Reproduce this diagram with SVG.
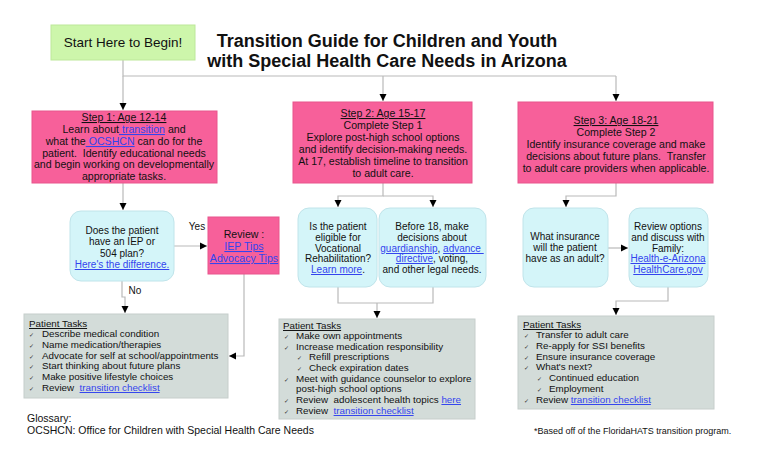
<svg xmlns="http://www.w3.org/2000/svg" width="760" height="461" viewBox="0 0 760 461">
<defs>
<marker id="ah" markerWidth="8" markerHeight="8" refX="7" refY="4" orient="auto" markerUnits="userSpaceOnUse">
<path d="M0,0.5 L7,4 L0,7.5 Z" fill="#000"/>
</marker>
<style>
text{font-family:"Liberation Sans",Arial,sans-serif;fill:#111;white-space:pre;}
.t{font-size:18px;font-weight:bold;text-anchor:middle;}
.s{font-size:10.6px;text-anchor:middle;}
.q{font-size:10px;text-anchor:middle;}
.p{font-size:9.8px;}
.u{text-decoration:underline;}
.a{fill:#3344ee;text-decoration:underline;}
.ck{font-family:"DejaVu Sans",sans-serif;font-size:6px;fill:#333;}
.pink{fill:#f7609a;stroke:#e8558c;stroke-width:1;}
.cyan{fill:#d4f5f9;stroke:#c0e4ea;stroke-width:1;}
.gray{fill:#d3dcd9;stroke:#c6cecb;stroke-width:1;}
.c{fill:none;stroke:#b9b9b9;stroke-width:1.2;}
</style>
</defs>
<rect width="760" height="461" fill="#fff"/>
<text class="t" x="387" y="47">Transition Guide for Children and Youth</text>
<text class="t" x="387" y="67">with Special Health Care Needs in Arizona</text>

<g id="connectors">
<path class="c" d="M123,60 V76 H616"/>
<path class="c" d="M123,76 V110" marker-end="url(#ah)"/>
<path class="c" d="M383,76 V101" marker-end="url(#ah)"/>
<path class="c" d="M616,76 V101" marker-end="url(#ah)"/>
<path class="c" d="M123,183 V210" marker-end="url(#ah)"/>
<path class="c" d="M174,246 H207" marker-end="url(#ah)"/>
<path class="c" d="M122,281 V297 H125 V313" marker-end="url(#ah)"/>
<path class="c" d="M244,274 V356 H229" marker-end="url(#ah)"/>
<path class="c" d="M383,183 V196 H338 V207" marker-end="url(#ah)"/>
<path class="c" d="M383,196 H433 V207" marker-end="url(#ah)"/>
<path class="c" d="M338,287 V303 H433 V287"/>
<path class="c" d="M377,303 V318" marker-end="url(#ah)"/>
<path class="c" d="M616,183 V196 H566 V207" marker-end="url(#ah)"/>
<path class="c" d="M608,248 H628" marker-end="url(#ah)"/>
<path class="c" d="M668,287 V301 H616 V315" marker-end="url(#ah)"/>
<text x="197" y="230" class="q">Yes</text>
<text x="135" y="294" class="q">No</text>
</g>

<g id="start">
<rect x="51" y="25" width="144" height="35" fill="#cdf6ab" stroke="#bde89a"/>
<text x="123" y="47" style="font-size:13.5px;text-anchor:middle">Start Here to Begin!</text>
</g>

<g id="step1">
<rect class="pink" x="32" y="111" width="185" height="72"/>
<text class="s" x="124" y="121"><tspan class="u">Step 1: Age 12-14</tspan></text>
<text class="s" x="124" y="133">Learn about<tspan class="a"> transition</tspan> and</text>
<text class="s" x="124" y="145">what the<tspan class="a"> OCSHCN</tspan> can do for the</text>
<text class="s" x="124" y="157">patient.  Identify educational needs</text>
<text class="s" x="124" y="168">and begin working on developmentally</text>
<text class="s" x="124" y="180">appropriate tasks.</text>
</g>

<g id="step2">
<rect class="pink" x="293" y="102" width="179" height="81"/>
<text class="s" x="383" y="117"><tspan class="u">Step 2: Age 15-17</tspan></text>
<text class="s" x="383" y="129">Complete Step 1</text>
<text class="s" x="383" y="141">Explore post-high school options</text>
<text class="s" x="383" y="153">and identify decision-making needs.</text>
<text class="s" x="383" y="165">At 17, establish timeline to transition</text>
<text class="s" x="383" y="177">to adult care.</text>
</g>

<g id="step3">
<rect class="pink" x="518" y="102" width="195" height="81"/>
<text class="s" x="616" y="124"><tspan class="u">Step 3: Age 18-21</tspan></text>
<text class="s" x="616" y="136">Complete Step 2</text>
<text class="s" x="616" y="148">Identify insurance coverage and make</text>
<text class="s" x="616" y="160">decisions about future plans.  Transfer</text>
<text class="s" x="616" y="172">to adult care providers when applicable.</text>
</g>

<g id="iep">
<rect class="cyan" x="70" y="211" width="104" height="70" rx="11"/>
<text class="q" x="122" y="234">Does the patient</text>
<text class="q" x="122" y="245">have an IEP or</text>
<text class="q" x="122" y="257">504 plan?</text>
<text class="q" x="122" y="268"><tspan class="a">Here's the difference.</tspan></text>
</g>

<g id="review1">
<rect class="pink" x="208" y="217" width="71" height="57"/>
<text class="s" x="244" y="238">Review :</text>
<text class="s" x="244" y="250"><tspan class="a">IEP Tips</tspan></text>
<text class="s" x="244" y="262"><tspan class="a">Advocacy Tips</tspan></text>
</g>

<g id="voc">
<rect class="cyan" x="298" y="208" width="79" height="79" rx="11"/>
<text class="q" x="338" y="230">Is the patient</text>
<text class="q" x="338" y="241">eligible for</text>
<text class="q" x="338" y="252">Vocational</text>
<text class="q" x="338" y="262">Rehabilitation?</text>
<text class="q" x="338" y="273"><tspan class="a">Learn more</tspan>.</text>
</g>

<g id="legal">
<rect class="cyan" x="379" y="208" width="107" height="79" rx="11"/>
<text class="q" x="432" y="230">Before 18, make</text>
<text class="q" x="432" y="241">decisions about</text>
<text class="q" x="432" y="252"><tspan class="a">guardianship</tspan>, <tspan class="a">advance </tspan></text>
<text class="q" x="432" y="262"><tspan class="a">directive</tspan>, voting,</text>
<text class="q" x="432" y="273">and other legal needs.</text>
</g>

<g id="insurance">
<rect class="cyan" x="523" y="208" width="85" height="79" rx="11"/>
<text class="q" x="565" y="240">What insurance</text>
<text class="q" x="565" y="251">will the patient</text>
<text class="q" x="565" y="262">have as an adult?</text>
</g>

<g id="options">
<rect class="cyan" x="629" y="208" width="79" height="79" rx="11"/>
<text class="q" x="668" y="230">Review options</text>
<text class="q" x="668" y="241">and discuss with</text>
<text class="q" x="668" y="252">Family:</text>
<text class="q" x="668" y="262"><tspan class="a">Health-e-Arizona</tspan></text>
<text class="q" x="668" y="273"><tspan class="a">HealthCare.gov</tspan></text>
</g>

<g id="tasks1">
<rect class="gray" x="24" y="314" width="204" height="84"/>
<text class="p" x="29" y="327"><tspan class="u">Patient Tasks</tspan></text>
<text class="ck" x="29" y="337">✓</text><text class="p" x="42" y="337">Describe medical condition</text>
<text class="ck" x="29" y="348">✓</text><text class="p" x="42" y="348">Name medication/therapies</text>
<text class="ck" x="29" y="359">✓</text><text class="p" x="42" y="359">Advocate for self at school/appointments</text>
<text class="ck" x="29" y="369">✓</text><text class="p" x="42" y="369">Start thinking about future plans</text>
<text class="ck" x="29" y="380">✓</text><text class="p" x="42" y="380">Make positive lifestyle choices</text>
<text class="ck" x="29" y="391">✓</text><text class="p" x="42" y="391">Review  <tspan class="a">transition checklist</tspan></text>
</g>

<g id="tasks2">
<rect class="gray" x="279" y="319" width="196" height="100"/>
<text class="p" x="283" y="329"><tspan class="u">Patient Tasks</tspan></text>
<text class="ck" x="284" y="339">✓</text><text class="p" x="296" y="339">Make own appointments</text>
<text class="ck" x="284" y="350">✓</text><text class="p" x="296" y="350">Increase medication responsibility</text>
<text class="ck" x="297" y="360">✓</text><text class="p" x="309" y="360">Refill prescriptions</text>
<text class="ck" x="297" y="371">✓</text><text class="p" x="309" y="371">Check expiration dates</text>
<text class="ck" x="284" y="382">✓</text><text class="p" x="296" y="382">Meet with guidance counselor to explore</text>
<text class="p" x="296" y="392">post-high school options</text>
<text class="ck" x="284" y="403">✓</text><text class="p" x="296" y="403">Review  adolescent health topics <tspan class="a">here</tspan></text>
<text class="ck" x="284" y="414">✓</text><text class="p" x="296" y="414">Review  <tspan class="a">transition checklist</tspan></text>
</g>

<g id="tasks3">
<rect class="gray" x="518" y="316" width="196" height="93"/>
<text class="p" x="523" y="328"><tspan class="u">Patient Tasks</tspan></text>
<text class="ck" x="524" y="338">✓</text><text class="p" x="536" y="338">Transfer to adult care</text>
<text class="ck" x="524" y="349">✓</text><text class="p" x="536" y="349">Re-apply for SSI benefits</text>
<text class="ck" x="524" y="360">✓</text><text class="p" x="536" y="360">Ensure insurance coverage</text>
<text class="ck" x="524" y="370">✓</text><text class="p" x="536" y="370">What's next?</text>
<text class="ck" x="537" y="381">✓</text><text class="p" x="549" y="381">Continued education</text>
<text class="ck" x="537" y="392">✓</text><text class="p" x="549" y="392">Employment</text>
<text class="ck" x="524" y="403">✓</text><text class="p" x="536" y="403">Review <tspan class="a">transition checklist</tspan></text>
</g>

<g id="glossary">
<text x="27" y="422" style="font-size:10.5px">Glossary:</text>
<text x="27" y="434" style="font-size:10.5px">OCSHCN: Office for Children with Special Health Care Needs</text>
</g>
<g id="footnote">
<text x="534" y="434" style="font-size:9px">*Based off of the FloridaHATS transition program.</text>
</g>
</svg>
